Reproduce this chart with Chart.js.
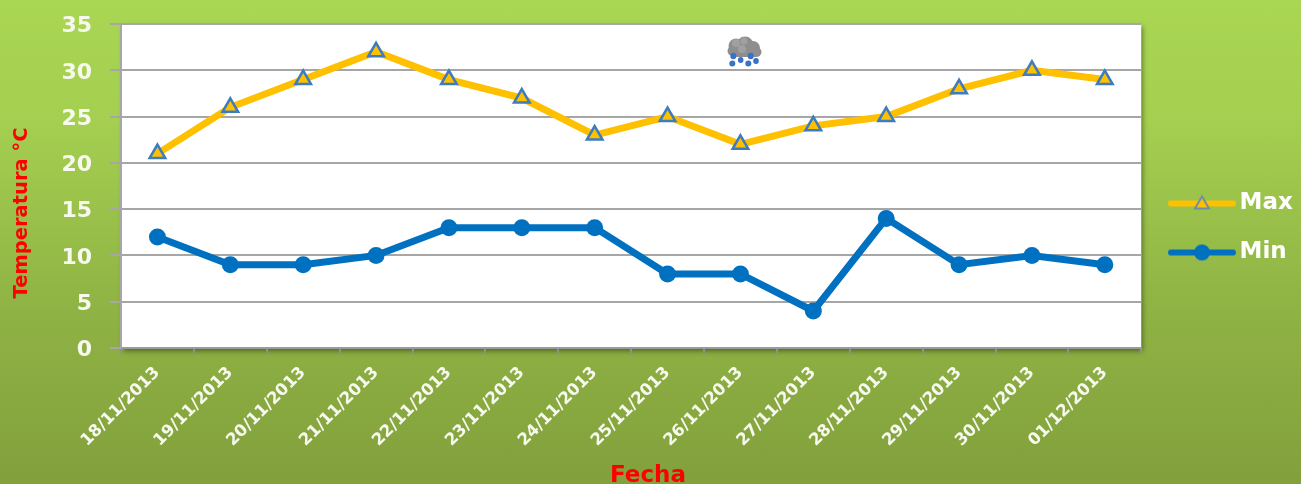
<!DOCTYPE html>
<html lang="es">
<head>
  <meta charset="UTF-8">
  <title>Temperatura Max y Min</title>
  <script src="https://cdn.jsdelivr.net/npm/chart.js"></script>
  <style>
    html, body { margin: 0; padding: 0; width: 1301px; height: 484px; overflow: hidden; }
    body { background: linear-gradient(to bottom, #a9d653 0%, #a4cf50 25%, #8fb244 65%, #82a03c 100%); position: relative; }
    #wrap { position: absolute; left: 0; top: 0; width: 1301px; height: 484px; }
    #cloud { position: absolute; left: 726px; top: 36px; width: 36px; height: 31px; }
  </style>
</head>
<body>
  <div id="wrap"><canvas id="tempChart" width="1301" height="484"></canvas></div>
  <svg id="cloud" viewBox="0 0 36 31">
    <defs><filter id="soft"><feGaussianBlur stdDeviation="0.4"/></filter></defs>
    <g filter="url(#soft)">
      <g fill="#8e8e8e">
        <circle cx="10" cy="10" r="7.5"/>
        <circle cx="19" cy="9" r="8.5"/>
        <circle cx="27" cy="12" r="7"/>
        <circle cx="31" cy="16" r="4.5"/>
        <circle cx="6" cy="15" r="4.5"/>
        <rect x="4" y="12" width="30" height="9" rx="4"/>
      </g>
      <g fill="#a0a0a0">
        <circle cx="10" cy="7" r="4"/>
        <circle cx="18" cy="5" r="3.5"/>
        <circle cx="16" cy="13" r="4"/>
      </g>
      <g fill="#3a72c8">
        <ellipse cx="7.3" cy="20" rx="3" ry="3.2"/>
        <ellipse cx="24.7" cy="20" rx="3" ry="3.2"/>
        <ellipse cx="14.7" cy="24" rx="2.8" ry="3"/>
        <ellipse cx="30" cy="25" rx="2.8" ry="3"/>
        <ellipse cx="6.3" cy="27.5" rx="3" ry="3"/>
        <ellipse cx="22.3" cy="27.5" rx="3" ry="3"/>
      </g>
    </g>
  </svg>

  <script>
    const fechas = ['18/11/2013', '19/11/2013', '20/11/2013', '21/11/2013', '22/11/2013', '23/11/2013', '24/11/2013',
      '25/11/2013', '26/11/2013', '27/11/2013', '28/11/2013', '29/11/2013', '30/11/2013', '01/12/2013'];
    const maxTemp = [21, 26, 29, 32, 29, 27, 23, 25, 22, 24, 25, 28, 30, 29];
    const minTemp = [12, 9, 9, 10, 13, 13, 13, 8, 8, 4, 14, 9, 10, 9];

    const labelFont = 'DejaVu Sans';

    // legend sample: line with the marker on top, used as the legend pointStyle
    function legendSample(lineColor, fill, stroke, triangle) {
      const c = document.createElement('canvas');
      c.width = 68;
      c.height = 20;
      const g = c.getContext('2d');
      g.strokeStyle = lineColor;
      g.lineWidth = 6;
      g.lineCap = 'round';
      g.beginPath();
      g.moveTo(3, 10);
      g.lineTo(65, 10);
      g.stroke();
      g.fillStyle = fill;
      g.strokeStyle = stroke;
      g.lineWidth = 2;
      g.lineCap = 'butt';
      g.beginPath();
      if (triangle) {
        g.moveTo(34, 3);
        g.lineTo(41, 15);
        g.lineTo(27, 15);
        g.closePath();
      } else {
        g.arc(34, 10, 7, 0, Math.PI * 2);
      }
      g.fill();
      g.stroke();
      return c;
    }

    const plotBackground = {
      id: 'plotBackground',
      beforeDraw(chart) {
        const a = chart.chartArea;
        const ctx = chart.ctx;
        ctx.save();
        ctx.shadowColor = 'rgba(40,50,10,0.6)';
        ctx.shadowBlur = 5;
        ctx.shadowOffsetX = 2;
        ctx.shadowOffsetY = 3;
        ctx.fillStyle = '#ffffff';
        ctx.fillRect(a.left, a.top, a.width, a.height);
        ctx.restore();
      },
      afterLayout(chart) {
        // legend sits beside the middle of the plot, next to the canvas edge
        const l = chart.legend;
        const w = l.width;
        l.left = 1150;
        l.right = 1150 + w;
        l.top -= 26;
        l.bottom -= 26;
      },
      afterDraw(chart) {
        // axis titles are off centre in the original, so the built-in ones can't be used
        const ctx = chart.ctx;
        ctx.save();
        ctx.fillStyle = '#ff0000';
        ctx.textAlign = 'center';
        ctx.textBaseline = 'middle';
        ctx.font = 'bold 23px "' + labelFont + '"';
        ctx.fillText('Fecha', 648, 476);
        ctx.translate(22, 213);
        ctx.rotate(-Math.PI / 2);
        ctx.font = 'bold 19.5px "' + labelFont + '"';
        ctx.fillText('Temperatura °C', 0, 0);
        ctx.restore();
      }
    };

    new Chart(document.getElementById('tempChart'), {
      type: 'line',
      data: {
        labels: fechas,
        datasets: [
          {
            label: 'Max',
            data: maxTemp,
            borderColor: '#ffc000',
            backgroundColor: '#ffc000',
            borderWidth: 7,
            tension: 0,
            pointStyle: 'triangle',
            pointRadius: 9,
            pointBackgroundColor: '#ffc000',
            pointBorderColor: '#3d7cbe',
            pointBorderWidth: 2.5
          },
          {
            label: 'Min',
            data: minTemp,
            borderColor: '#0070c0',
            backgroundColor: '#0070c0',
            borderWidth: 7,
            tension: 0,
            pointStyle: 'circle',
            pointRadius: 8.5,
            pointBackgroundColor: '#0070c0',
            pointBorderColor: '#0070c0',
            pointBorderWidth: 0
          }
        ]
      },
      options: {
        responsive: false,
        animation: false,
        layout: { padding: { top: 24, right: 7, left: 0, bottom: 0 } },
        plugins: {
          tooltip: { enabled: false },
          legend: {
            position: 'right',
            labels: {
              usePointStyle: true,
              pointStyleWidth: 52,
              color: '#ffffff',
              padding: 26,
              font: { family: labelFont, size: 23, weight: 'bold' },
              generateLabels(chart) {
                return [
                  { text: 'Max', fontColor: '#ffffff', datasetIndex: 0, lineWidth: 0,
                    pointStyle: legendSample('#ffc000', '#ffc000', '#6f8ea8', true) },
                  { text: 'Min', fontColor: '#ffffff', datasetIndex: 1, lineWidth: 0,
                    pointStyle: legendSample('#0070c0', '#0070c0', '#0070c0', false) }
                ];
              }
            }
          }
        },
        scales: {
          x: {
            offset: true,
            afterFit(scale) { scale.height = 136; scale.paddingLeft = 0; scale.paddingRight = 0; },
            grid: { offset: true, drawOnChartArea: false, color: '#8f8f8f', lineWidth: 2, tickLength: 5 },
            border: { color: '#9a9a9a', width: 2 },
            ticks: {
              color: '#f7f9ee',
              font: { family: labelFont, size: 16.5, weight: 'bold' },
              maxRotation: 45,
              minRotation: 45,
              padding: 10,
              autoSkip: false
            }
          },
          y: {
            min: 0,
            max: 35,
            afterFit(scale) { scale.width = 121; scale.paddingTop = 0; scale.paddingBottom = 0; },
            grid: { color: '#a6a6a6', lineWidth: 2, tickLength: 11 },
            border: { color: '#a6a6a6', width: 2 },
            ticks: {
              stepSize: 5,
              color: '#f7f9ee',
              padding: 18,
              labelOffset: 2.5,
              font: { family: labelFont, size: 22, weight: 'bold' }
            }
          }
        }
      },
      plugins: [plotBackground]
    });
  </script>
</body>
</html>
